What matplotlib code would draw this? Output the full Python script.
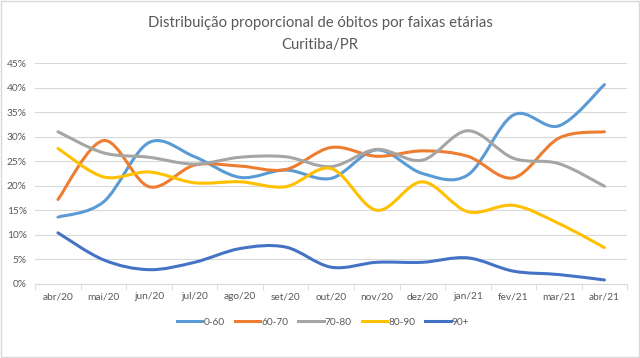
import numpy as np
import matplotlib.pyplot as plt
from matplotlib.path import Path
from matplotlib.patches import PathPatch, Rectangle
from matplotlib.lines import Line2D

plt.rcParams['font.family'] = ['Lato', 'DejaVu Sans']

months = ['abr/20', 'mai/20', 'jun/20', 'jul/20', 'ago/20', 'set/20', 'out/20',
          'nov/20', 'dez/20', 'jan/21', 'fev/21', 'mar/21', 'abr/21']

faixa_0_60 = [13.6, 16.7, 28.8, 25.9, 21.7, 23.2, 21.5, 27.3, 22.5, 22.2, 34.4, 32.2, 40.6]
faixa_60_70 = [17.2, 29.2, 19.8, 24.2, 24.0, 23.3, 27.8, 26.0, 27.1, 26.0, 21.6, 29.7, 31.0]
faixa_70_80 = [31.0, 26.7, 25.8, 24.4, 25.8, 25.9, 23.9, 27.4, 25.2, 31.2, 25.6, 24.5, 19.9]
faixa_80_90 = [27.6, 21.8, 22.8, 20.6, 20.8, 19.8, 23.5, 15.0, 20.8, 14.7, 16.0, 12.3, 7.4]
faixa_90 = [10.4, 4.9, 2.9, 4.4, 7.2, 7.5, 3.4, 4.4, 4.4, 5.3, 2.6, 1.9, 0.8]

series = [('0-60', faixa_0_60, '#5B9BD5'),
          ('60-70', faixa_60_70, '#ED7D31'),
          ('70-80', faixa_70_80, '#A5A5A5'),
          ('80-90', faixa_80_90, '#FFC000'),
          ('90+', faixa_90, '#4472C4')]


# smoothed line like Excel: cubic Bezier segments through the data points
def smooth_path(x, y, k=1 / 6):
    pts = np.column_stack([x, y])
    n = len(pts)
    verts = [pts[0]]
    codes = [Path.MOVETO]
    for i in range(n - 1):
        p0 = pts[max(i - 1, 0)]
        p1 = pts[i]
        p2 = pts[i + 1]
        p3 = pts[min(i + 2, n - 1)]
        c1 = p1 + (p2 - p0) * k
        c2 = p2 - (p3 - p1) * k
        verts += [c1, c2, p2]
        codes += [Path.CURVE4] * 3
    return Path(verts, codes)


fig = plt.figure(figsize=(6.4, 3.58), dpi=100)
ax = fig.add_axes([0.055, 0.207, 0.925, 0.617])

x = np.arange(len(months))
handles = []
for name, vals, color in series:
    y = np.array(vals) / 100
    ax.add_patch(PathPatch(smooth_path(x, y), facecolor='none', edgecolor=color,
                           lw=2.2, capstyle='round', joinstyle='round', zorder=3))
    handles.append(Line2D([], [], color=color, lw=2.2, label=name))

ax.set_xlim(-0.5, len(months) - 0.5)
ax.set_ylim(0, 0.45)
ax.set_yticks(np.arange(0, 0.451, 0.05))
ax.set_yticklabels([f'{int(round(v * 100))}%' for v in np.arange(0, 0.451, 0.05)])
ax.set_xticks(x)
ax.set_xticklabels(months)
ax.set_xticks(np.arange(-0.5, len(months), 1), minor=True)
ax.tick_params(axis='x', which='major', length=0, labelsize=7.3, colors='#595959', pad=6)
ax.tick_params(axis='x', which='minor', length=4, color='#d9d9d9')
ax.tick_params(axis='y', length=0, labelsize=7.3, colors='#595959', pad=6)
ax.grid(axis='y', color='#d9d9d9', lw=0.8)
ax.set_axisbelow(True)
for s in ['top', 'right', 'left']:
    ax.spines[s].set_visible(False)
ax.spines['bottom'].set_color('#d9d9d9')

fig.text(0.5, 0.955, 'Distribuição proporcional de óbitos por faixas etárias',
         ha='center', va='top', fontsize=10.7, color='#595959')
fig.text(0.5, 0.895, 'Curitiba/PR', ha='center', va='top', fontsize=10.7, color='#595959')

fig.legend(handles=handles, loc='center', bbox_to_anchor=(0.505, 0.1), ncol=5,
           frameon=False, fontsize=7.3, handlelength=2.5, handletextpad=0.1,
           columnspacing=1.0, labelcolor='#595959')

fig.add_artist(Rectangle((0.002, 0.003), 0.996, 0.994, transform=fig.transFigure,
                         fill=False, edgecolor='#d9d9d9', lw=1))

fig.savefig('out.png', dpi=100)
